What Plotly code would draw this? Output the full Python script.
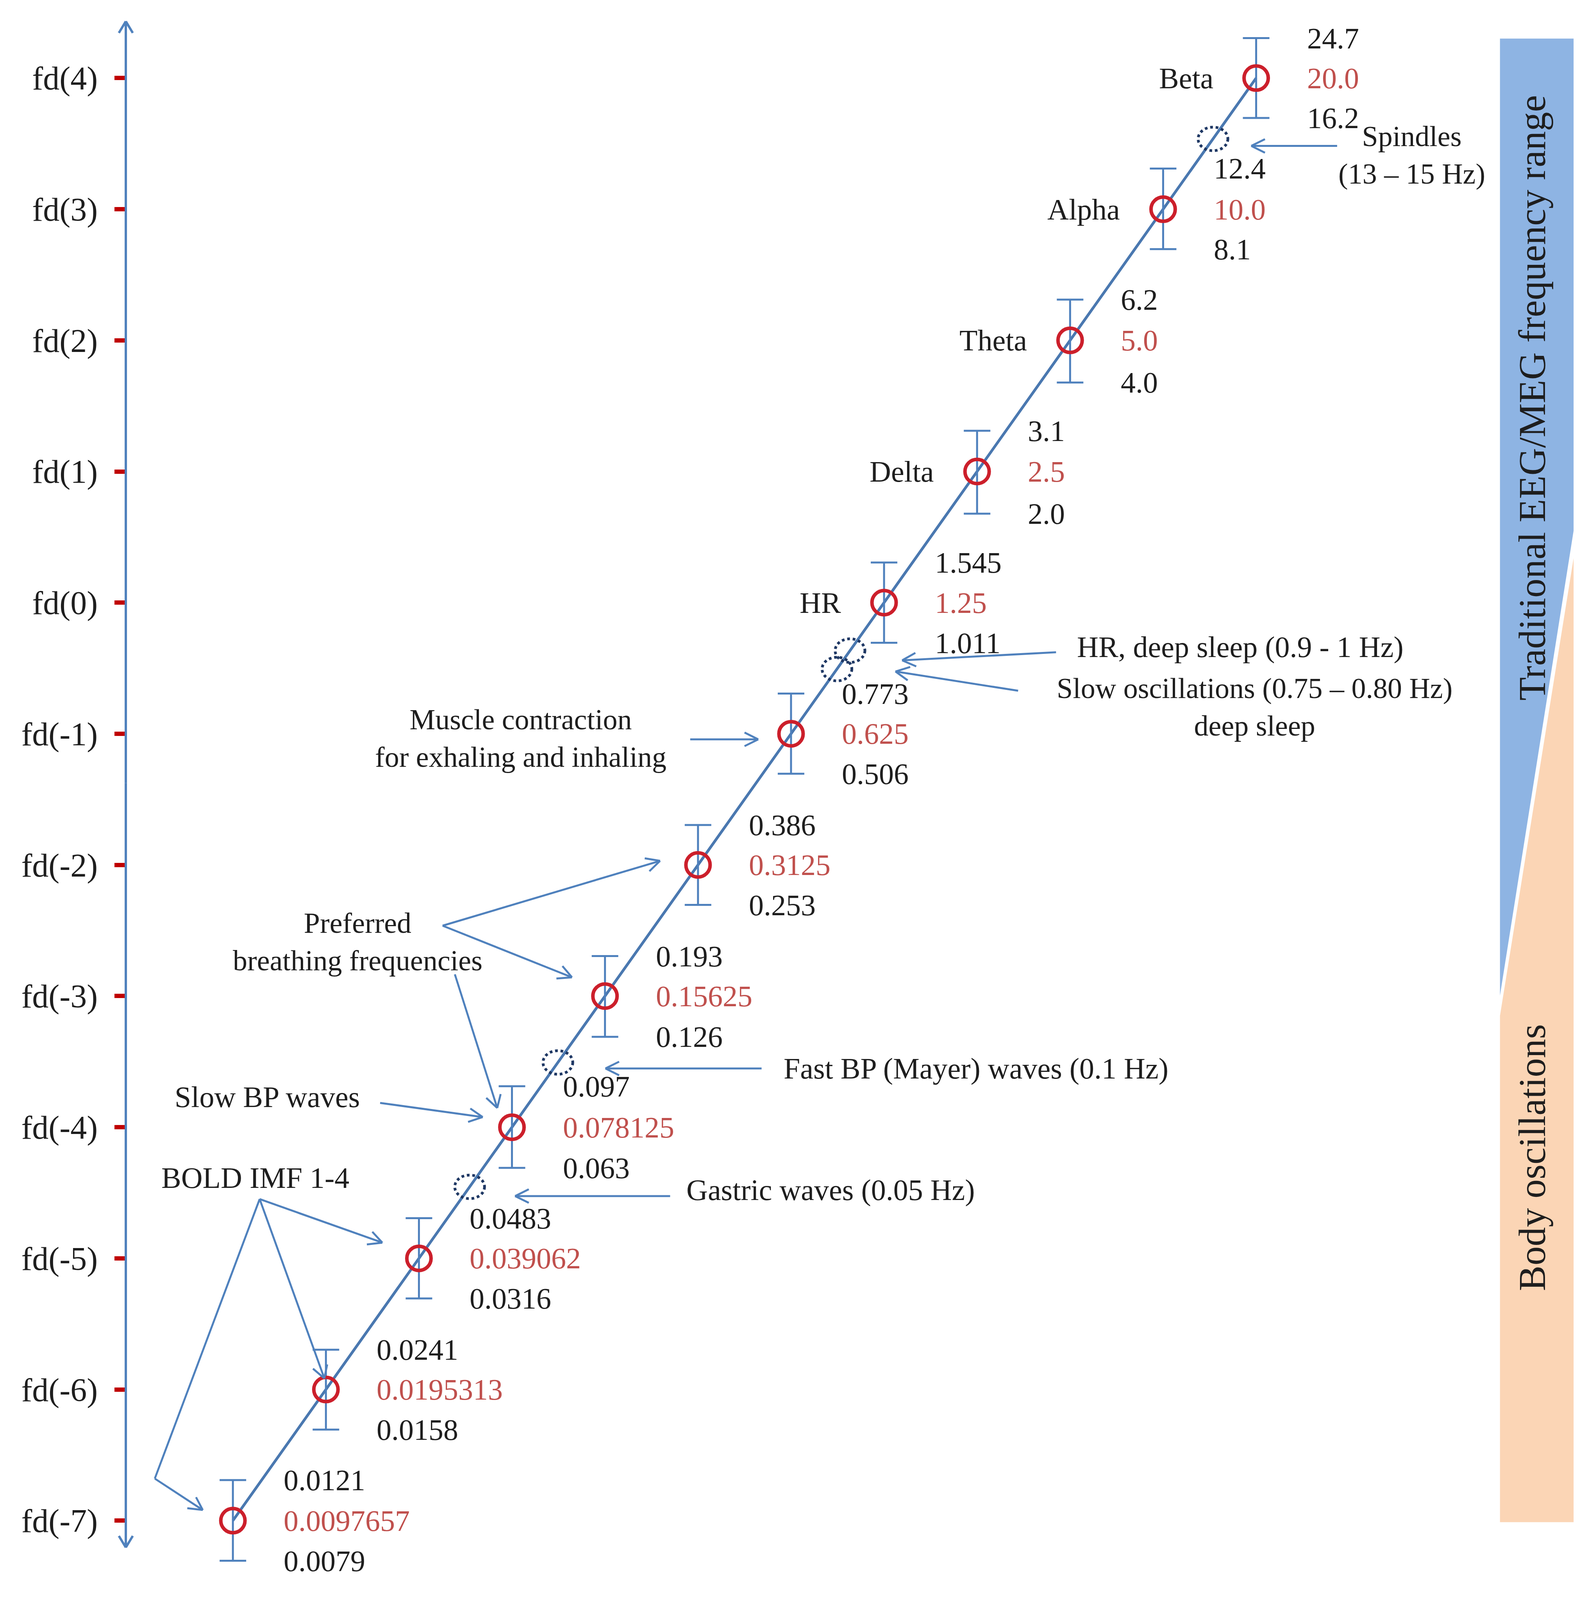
import numpy as np
import plotly.graph_objects as go

# fd(k) levels: centre frequency and band limits (Hz)
niveles = ['fd(4)', 'fd(3)', 'fd(2)', 'fd(1)', 'fd(0)', 'fd(-1)', 'fd(-2)',
           'fd(-3)', 'fd(-4)', 'fd(-5)', 'fd(-6)', 'fd(-7)']
centro = [20.0, 10.0, 5.0, 2.5, 1.25, 0.625, 0.3125, 0.15625, 0.078125,
          0.039062, 0.0195313, 0.0097657]
superior = [24.7, 12.4, 6.2, 3.1, 1.545, 0.773, 0.386, 0.193, 0.097,
            0.0483, 0.0241, 0.0121]
inferior = [16.2, 8.1, 4.0, 2.0, 1.011, 0.506, 0.253, 0.126, 0.063,
            0.0316, 0.0158, 0.0079]
txt_centro = ['20.0', '10.0', '5.0', '2.5', '1.25', '0.625', '0.3125', '0.15625',
              '0.078125', '0.039062', '0.0195313', '0.0097657']
txt_sup = ['24.7', '12.4', '6.2', '3.1', '1.545', '0.773', '0.386', '0.193',
           '0.097', '0.0483', '0.0241', '0.0121']
txt_inf = ['16.2', '8.1', '4.0', '2.0', '1.011', '0.506', '0.253', '0.126',
           '0.063', '0.0316', '0.0158', '0.0079']
bandas = ['Beta', 'Alpha', 'Theta', 'Delta', 'HR', '', '', '', '', '', '', '']

# other rhythms drawn as dotted circles on the line (Hz)
f_otras = [14.5, 0.97, 0.88, 0.11, 0.057]

# the visible page is only ~4083 px tall, keep the whole drawing inside it
W, H = 4083, 4065
RW, RH = 1430, 1568      # sketch units used for the free annotations
FONT = 'Liberation Serif'
AZUL = '#4F81BD'
ROJO = '#CC1F2B'
ROJO_TXT = '#C0504D'
NEGRO = '#1E1E1E'
FS = 76


def xp(x):
    return x / RW


def yp(y):
    return 1 - y / RH


shapes = []
annotations = []


def linea(x0, y0, x1, y1, color=AZUL, width=5):
    shapes.append(dict(type='line', xref='paper', yref='paper',
                       x0=xp(x0), y0=yp(y0), x1=xp(x1), y1=yp(y1),
                       line=dict(color=color, width=width)))


def flecha(x0, y0, x1, y1, largo=14, width=5):
    linea(x0, y0, x1, y1, width=width)
    ang = np.arctan2(y1 - y0, x1 - x0)
    for d in (0.5, -0.5):
        hx = x1 - largo * np.cos(ang + d)
        hy = y1 - largo * np.sin(ang + d)
        linea(hx, hy, x1, y1, width=width)


# axis ranges (log10), fitted to the reference layout
l2 = np.log10(2)
y_top = (np.log2(20) + 74 / 129.5) * l2
y_bot = (np.log2(20) - (RH - 74) / 129.5) * l2
x_left = (np.log2(0.0097657) - 206 / 83.4) * l2
x_right = (np.log2(0.0097657) + (RW - 206) / 83.4) * l2

fig = go.Figure()

# diagonal line through the centres
fig.add_trace(go.Scatter(
    x=centro, y=centro, mode='lines',
    line=dict(color='#4A78B0', width=7),
    hoverinfo='skip', showlegend=False
))

# centre markers with band limits as error bars
fig.add_trace(go.Scatter(
    x=centro, y=centro, mode='markers',
    marker=dict(symbol='circle-open', size=62, color=ROJO, line=dict(width=9)),
    error_y=dict(type='data', symmetric=False,
                 array=[s - c for s, c in zip(superior, centro)],
                 arrayminus=[c - i for c, i in zip(centro, inferior)],
                 color=AZUL, thickness=5, width=34),
    showlegend=False
))

# number labels and band names
for c, s, i, tc, ts, ti, b in zip(centro, superior, inferior,
                                  txt_centro, txt_sup, txt_inf, bandas):
    for val, t, col in ((s, ts, NEGRO), (c, tc, ROJO_TXT), (i, ti, NEGRO)):
        annotations.append(dict(x=np.log10(c), y=np.log10(val), text=t,
                                xref='x', yref='y', showarrow=False,
                                xanchor='left', yanchor='middle', xshift=128,
                                font=dict(family=FONT, size=FS, color=col)))
    if b:
        annotations.append(dict(x=np.log10(c), y=np.log10(c), text=b,
                                xref='x', yref='y', showarrow=False,
                                xanchor='right', yanchor='middle', xshift=-108,
                                font=dict(family=FONT, size=FS, color=NEGRO)))

# dotted circles (half size in fd-level units, x and y)
rx, ry = 0.16, 0.09
for f in f_otras:
    shapes.append(dict(type='circle', xref='x', yref='y',
                       x0=f * 2 ** -rx, x1=f * 2 ** rx,
                       y0=f * 2 ** -ry, y1=f * 2 ** ry,
                       line=dict(color='#1F3864', width=7, dash='dot')))

# side band
shapes.append(dict(type='path', xref='paper', yref='paper', layer='below',
                   path='M {},{} L {},{} L {},{} L {},{} Z'.format(
                       xp(1342), yp(35), xp(1408), yp(35),
                       xp(1408), yp(521), xp(1342), yp(980)),
                   fillcolor='#8EB4E3', line=dict(width=0)))
shapes.append(dict(type='path', xref='paper', yref='paper', layer='below',
                   path='M {},{} L {},{} L {},{} L {},{} Z'.format(
                       xp(1342), yp(1000), xp(1408), yp(548),
                       xp(1408), yp(1500), xp(1342), yp(1500)),
                   fillcolor='#FBD5B5', line=dict(width=0)))
for t, y in (('Traditional EEG/MEG frequency range', 390), ('Body oscillations', 1140)):
    annotations.append(dict(x=xp(1371), y=yp(y), xref='paper', yref='paper',
                            text=t, textangle=-90, showarrow=False,
                            xanchor='center', yanchor='middle',
                            font=dict(family=FONT, size=98, color=NEGRO)))

# free text notes
notas = [
    ('Spindles<br>(13 – 15 Hz)', 1263, 150, 'center', 74),
    ('HR, deep sleep (0.9 - 1 Hz)', 962, 636, 'left', FS),
    ('Slow oscillations (0.75 – 0.80 Hz)<br>deep sleep', 1122, 695, 'center', 74),
    ('Muscle contraction<br>for exhaling and inhaling', 464, 726, 'center', 74),
    ('Preferred<br>breathing frequencies', 318, 927, 'center', 74),
    ('Fast BP (Mayer) waves (0.1 Hz)', 699, 1052, 'left', FS),
    ('Slow BP waves', 153, 1080, 'left', FS),
    ('BOLD IMF 1-4', 141, 1160, 'left', FS),
    ('Gastric waves (0.05 Hz)', 612, 1172, 'left', FS),
]
for t, x, y, anc, fs in notas:
    annotations.append(dict(x=xp(x), y=yp(y), xref='paper', yref='paper',
                            text=t, showarrow=False, xanchor=anc, yanchor='middle',
                            align='center',
                            font=dict(family=FONT, size=fs, color=NEGRO)))

flechas = [
    (1196, 141, 1119, 141), (944, 641, 806, 649), (910, 679, 800, 660),
    (616, 727, 677, 727), (394, 911, 589, 847), (394, 911, 510, 962),
    (405, 959, 443, 1091), (680, 1052, 540, 1052), (338, 1086, 430, 1100),
    (598, 1178, 459, 1178), (230, 1181, 340, 1224), (230, 1181, 288, 1358),
    (136, 1457, 179, 1488),
]
for a in flechas:
    flecha(*a)
linea(230, 1181, 136, 1457)

# vertical fd axis with arrows at both ends
flecha(110, 770, 110, 18, largo=13, width=6)
flecha(110, 770, 110, 1525, largo=13, width=6)

fig.update_layout(
    width=W, height=H,
    margin=dict(l=0, r=0, t=0, b=0),
    plot_bgcolor='white', paper_bgcolor='white',
    xaxis=dict(type='log', range=[x_left, x_right], visible=False, domain=[0, 1]),
    yaxis=dict(type='log', range=[y_bot, y_top], anchor='free', position=110 / RW,
               tickvals=centro, ticktext=niveles, ticks='outside',
               ticklen=29, tickwidth=11, tickcolor='#C00000',
               ticklabelstandoff=26,
               tickfont=dict(family=FONT, size=84, color=NEGRO),
               showgrid=False, zeroline=False, showline=False),
    shapes=shapes,
    annotations=annotations,
    showlegend=False,
)

fig.write_html('out.html')
